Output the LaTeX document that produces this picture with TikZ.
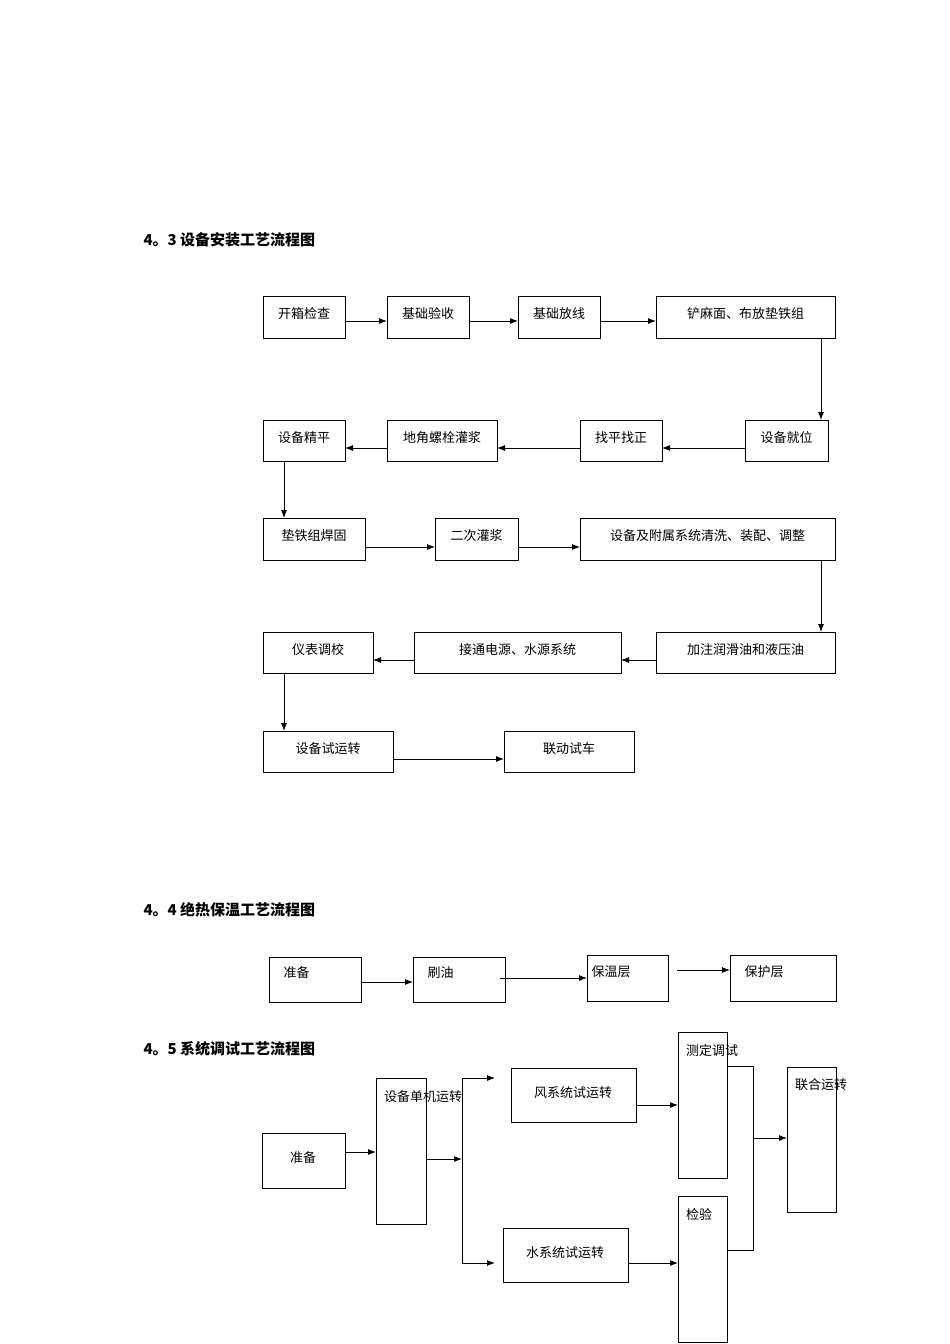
\documentclass[tikz,border=0pt]{standalone}
\usepackage{fontspec}
\setmainfont{Noto Sans CJK SC}
\usetikzlibrary{arrows.meta}
\begin{document}
\begin{tikzpicture}[x=1pt,y=-1pt,
  box/.style={draw,line width=0.9pt},
  lab/.style={font=\fontsize{13}{13}\selectfont},
  vlab/.style={font=\fontsize{13}{13}\selectfont,anchor=north,text width=1em,align=center,inner sep=0pt},
  head/.style={font=\bfseries\fontsize{15}{15}\selectfont,anchor=west},
  arr/.style={-{Latex[length=8pt,width=6pt]},line width=0.9pt},
  ln/.style={line width=0.9pt}]
\useasboundingbox (0,0) rectangle (950,1344);
\newcommand\bx[6]{\draw[box] (#2,#3) rectangle (#4,#5);
  \node[lab] (#1) at ({(#2+#4)/2},{(#3+#5)/2-3}) {#6};
  \coordinate (#1n) at ({(#2+#4)/2},#3);}
\node[head] (h1) at (140,240) {4。3 设备安装工艺流程图};
\node[head] (h2) at (140,910) {4。4 绝热保温工艺流程图};
\node[head] (h3) at (140,1049) {4。5 系统调试工艺流程图};
% row1
\bx{a1}{263}{296}{345}{338}{开箱检查}
\bx{a2}{387}{296}{469}{338}{基础验收}
\bx{a3}{518}{296}{600}{338}{基础放线}
\bx{a4}{656}{296}{835}{338}{铲麻面、布放垫铁组}
\draw[arr] (345,321) -- (387,321);
\draw[arr] (469,321) -- (518,321);
\draw[arr] (600,321) -- (656,321);
\draw[arr] (821,338) -- (821,420);
% row2
\bx{b1}{263}{420}{345}{461}{设备精平}
\bx{b2}{387}{420}{497}{461}{地角螺栓灌浆}
\bx{b3}{580}{420}{662}{461}{找平找正}
\bx{b4}{745}{420}{828}{461}{设备就位}
\draw[arr] (745,448) -- (662,448);
\draw[arr] (580,448) -- (497,448);
\draw[arr] (387,448) -- (345,448);
\draw[arr] (284,461) -- (284,518);
% row3
\bx{c1}{263}{518}{365}{560}{垫铁组焊固}
\bx{c2}{435}{518}{518}{560}{二次灌浆}
\bx{c3}{580}{518}{835}{560}{设备及附属系统清洗、装配、调整}
\draw[arr] (365,547) -- (435,547);
\draw[arr] (518,547) -- (580,547);
\draw[arr] (821,560) -- (821,632);
% row4
\bx{d1}{263}{632}{373}{673}{仪表调校}
\bx{d2}{414}{632}{621}{673}{接通电源、水源系统}
\bx{d3}{656}{632}{835}{673}{加注润滑油和液压油}
\draw[arr] (656,660) -- (621,660);
\draw[arr] (414,660) -- (373,660);
\draw[arr] (284,673) -- (284,731);
% row5
\bx{e1}{263}{731}{393}{772}{设备试运转}
\bx{e2}{504}{731}{634}{772}{联动试车}
\draw[arr] (393,759) -- (504,759);
% 4.4
\draw[box] (269,957) rectangle (361,1002); \node[lab,anchor=west] (f1) at (280,973) {准备};
\draw[box] (413,957) rectangle (505,1002); \node[lab,anchor=west] (f2) at (424,973) {刷油};
\draw[box] (587,955) rectangle (668,1001); \node[lab,anchor=west] (f3) at (588,972) {保温层};
\draw[box] (730,955) rectangle (836,1001); \node[lab,anchor=west] (f4) at (741,972) {保护层};
\draw[arr] (361,982) -- (413,982);
\draw[arr] (500,978) -- (587,978);
\coordinate (fs) at (677,970);
\draw[arr] (fs) -- (730,970);
% 4.5
\draw[box] (262,1133) rectangle (345,1188); \node[lab] (g1) at (303,1158) {准备};
\draw[box] (376,1078) rectangle (426,1224); \node[vlab] (g2) at (389,1090) {设备单机运转};
\draw[arr] (345,1152) -- (376,1152);
\draw[arr] (426,1159) -- (462,1159);
\draw[ln] (462,1078) -- (462,1263);
\draw[arr] (462,1078) -- (495,1078);
\draw[arr] (462,1263) -- (495,1263);
\draw[box] (511,1068) rectangle (636,1122); \node[lab] (g3) at (573,1093) {风系统试运转};
\draw[box] (503,1228) rectangle (628,1282); \node[lab] (g4) at (565,1253) {水系统试运转};
\draw[box] (678,1032) rectangle (727,1178); \node[vlab] (g5) at (691,1044) {测定调试};
\draw[box] (678,1196) rectangle (727,1342); \node[vlab] (g6) at (691,1208) {检验};
\draw[arr] (636,1105) -- (678,1105);
\draw[arr] (628,1263) -- (678,1263);
\draw[ln] (727,1066) -- (753,1066) -- (753,1250) -- (727,1250);
\draw[box] (787,1067) rectangle (836,1212); \node[vlab] (g7) at (800,1078) {联合运转};
\draw[arr] (753,1138) -- (787,1138);
\end{tikzpicture}
\end{document}
